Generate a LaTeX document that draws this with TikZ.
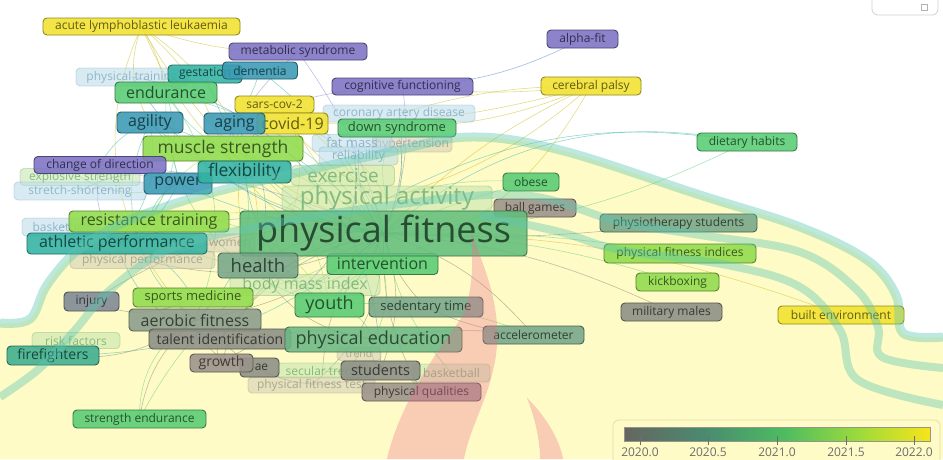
\documentclass[tikz,border=0pt]{standalone}
\usepackage{fontspec}
\setmainfont{Open Sans}
\pgfdeclarelayer{bgl}\pgfdeclarelayer{edg}\pgfdeclarelayer{fgl}\pgfdeclarelayer{top}
\pgfsetlayers{bgl,edg,main,fgl,top}
\definecolor{cY}{HTML}{F2E22E}
\definecolor{cP}{HTML}{7D72C4}
\definecolor{cL}{HTML}{90DC4C}
\definecolor{cG}{HTML}{58CC74}
\definecolor{cT}{HTML}{32B2A2}
\definecolor{cB}{HTML}{3A9AB4}
\definecolor{cGr}{HTML}{8C8E86}
\definecolor{cGG}{HTML}{76A688}
\definecolor{cGB}{HTML}{9A928A}
\definecolor{cF}{HTML}{62BE7C}
\definecolor{cPE}{HTML}{6CB884}
\definecolor{cInj}{HTML}{7D8894}
\definecolor{cAer}{HTML}{8A9C8A}
\definecolor{cFire}{HTML}{3CAE90}
\definecolor{fBl}{HTML}{B8DCEA}\definecolor{fBlt}{HTML}{7FA8BC}
\definecolor{fGn}{HTML}{C2E4AE}\definecolor{fGnt}{HTML}{6FAE70}
\definecolor{fGy}{HTML}{D0CCB4}\definecolor{fGyt}{HTML}{9A9A86}
\definecolor{bgY}{HTML}{FFFBC6}
\definecolor{panel}{HTML}{E2DEB0}
\definecolor{bandc}{HTML}{5CC6B2}
\definecolor{flamec}{HTML}{EE6A90}
\definecolor{cb0}{HTML}{66665F}
\definecolor{cb1}{HTML}{4A8A70}
\definecolor{cb2}{HTML}{4CBC60}
\definecolor{cb3}{HTML}{9ADA3C}
\definecolor{cb4}{HTML}{F8E41A}
\definecolor{tick}{HTML}{6D6D6D}
\pgfdeclarehorizontalshading{vos}{100bp}{color(0bp)=(cb0); color(25bp)=(cb0); color(38bp)=(cb1); color(51bp)=(cb2); color(63bp)=(cb3); color(75bp)=(cb4); color(100bp)=(cb4)}
\tikzset{
  kwbox/.style={rounded corners=4pt, line width=0.9pt, inner sep=0pt, fill opacity=0.88, text opacity=1},
  eY/.style={draw=cY!85!black, opacity=0.55, line width=0.6pt},
  eG/.style={draw=cG, opacity=0.5, line width=0.6pt},
  eT/.style={draw=cT, opacity=0.5, line width=0.6pt},
  eB/.style={draw=cB!70!blue, opacity=0.45, line width=0.6pt},
  eP/.style={draw=cP, opacity=0.45, line width=0.6pt},
  eK/.style={draw=cGr!80!black, opacity=0.45, line width=0.6pt},
  eL/.style={draw=cL, opacity=0.55, line width=0.6pt},
  bandst/.style={draw=bandc, line width=9pt, opacity=0.4, line join=round, line cap=butt},
  flm/.style={fill=flamec, opacity=0.32},
  ticklab/.style={text=tick, font=\fontsize{12}{12}\selectfont, inner sep=0pt},
}
\newcommand\kw[8]{\node[kwbox,fill=#6,draw=#6!60!black,text=#6!40!black,minimum width=#4pt,minimum height=#5pt,font=\fontsize{#7}{#7}\selectfont] (#1) at (#2,#3) {#8};}
\newcommand\fk[8]{\node[kwbox,fill=#6,fill opacity=0.55,draw=#6t,draw opacity=0.35,text=#6t,text opacity=0.8,minimum width=#4pt,minimum height=#5pt,font=\fontsize{#7}{#7}\selectfont] (#1) at (#2,#3) {#8};}
\newcommand\ed[4]{\draw[#1] (#2.center) to[bend left=#4] (#3.center);}
\begin{document}
\begin{tikzpicture}[x=1pt,y=-1pt]
\useasboundingbox (0,0) rectangle (943,459);
\begin{pgfonlayer}{bgl}
\fill[white] (0,0) rectangle (943,459);
\fill[bgY] plot[smooth,tension=0.6] coordinates {(0,323) (30,319) (47,285) (78,250) (125,222) (200,196) (300,172) (390,152) (470,137) (560,150) (700,195) (800,227) (867,260) (896,295) (903,333) (943,337)} -- (943,459) -- (0,459) -- cycle;
\end{pgfonlayer}
% faded keywords
\fk{ptr}{132}{77}{112}{18}{fBl}{12}{physical training}
\fk{cad}{399}{113.5}{152}{17}{fBl}{12}{coronary artery disease}
\fk{hyp}{412}{144}{80}{16}{fGy}{12}{hypertension}
\fk{fat}{352}{143}{80}{17}{fBl}{13}{fat mass}
\fk{rel}{358.5}{156}{79}{18}{fBl}{12.5}{reliability}
\fk{exs}{80}{177}{120}{17}{fGn}{12}{explosive strength}
\fk{ssc}{80}{191}{132}{18}{fBl}{12}{stretch-shortening}
\fk{exe}{343}{175.5}{103}{20}{fGn}{19}{exercise}
\fk{pa}{387}{198.5}{210}{25}{fGn}{24}{physical activity}
\fk{bsk1}{61}{227}{78}{18}{fBl}{12}{basketball}
\fk{wom}{230}{243}{50}{18}{fGy}{12}{women}
\fk{pperf}{142.5}{260}{145}{17}{fGy}{12}{physical performance}
\fk{bmi}{305}{285}{150}{21}{fGn}{16}{body mass index}
\fk{rf}{76}{340.5}{88}{16}{fGn}{12}{risk factors}
\fk{trend}{359}{354}{44}{13}{fGy}{10.5}{trend}
\fk{sec}{322.5}{370.5}{91}{15}{fGn}{12}{secular trend}
\fk{bsk2}{451.5}{373}{77}{18}{fGn}{12}{basketball}
\fk{pft}{311.5}{385}{127}{16}{fGy}{12}{physical fitness test}
% keywords
\kw{acute}{141.5}{26.5}{197}{17}{cY}{12}{acute lymphoblastic leukaemia}
\kw{meta}{298}{51.5}{138}{17}{cP}{12}{metabolic syndrome}
\kw{alpha}{582.5}{39}{71}{18}{cP}{12}{alpha-fit}
\kw{gest}{205}{74}{74}{18}{cT}{12}{gestation}
\kw{dem}{260}{70.5}{75}{17}{cB}{12}{dementia}
\kw{cog}{402.5}{86.5}{141}{17}{cP}{12}{cognitive functioning}
\kw{cp}{591}{86}{100}{18}{cY}{12}{cerebral palsy}
\kw{end}{166}{92.5}{102}{21}{cG}{16}{endurance}
\kw{sars}{274.5}{104.5}{79}{17}{cY}{12}{sars-cov-2}
\kw{covid}{292.5}{123.5}{71}{21}{cY}{16}{covid-19}
\kw{down}{397}{128}{118}{18}{cG}{13}{down syndrome}
\kw{agi}{150}{122.5}{66}{21}{cB}{16}{agility}
\kw{aging}{234.5}{123.5}{61}{21}{cB}{16}{aging}
\kw{mus}{223}{148.5}{160}{25}{cL}{17.5}{muscle strength}
\kw{cod}{100}{165}{132}{17}{cP}{12}{change of direction}
\kw{pow}{178}{183.5}{68}{21}{cB}{16}{power}
\kw{flex}{244.5}{172}{93}{22}{cT}{17.5}{flexibility}
\kw{diet}{747}{142}{100}{18}{cG}{12}{dietary habits}
\kw{obese}{531}{182}{56}{18}{cG}{12}{obese}
\kw{ball}{535}{208}{82}{18}{cGB}{12}{ball games}
\kw{physio}{678.5}{223}{157}{18}{cGG}{12}{physiotherapy students}
\kw{pfi}{680}{253.5}{152}{19}{cL}{12}{physical fitness indices}
\kw{kick}{677.5}{282}{83}{18}{cL}{12}{kickboxing}
\kw{mil}{671.5}{312}{101}{18}{cGr}{12}{military males}
\kw{built}{841}{315}{126}{18}{cY}{12}{built environment}
\kw{acc}{533.5}{335}{101}{18}{cGG}{12}{accelerometer}
\kw{res}{149}{221.5}{160}{21}{cL}{16}{resistance training}
\kw{ath}{117}{243.5}{180}{21}{cT}{16}{athletic performance}
\kw{int}{382.5}{264}{111}{21}{cG}{16}{intervention}
\kw{pf}{383.5}{233.5}{287}{45}{cF}{36}{physical fitness}
\kw{health}{258}{265.5}{80}{25}{cGG}{18.5}{health}
\kw{youth}{329.5}{305}{69}{24}{cG}{18}{youth}
\kw{sed}{426}{307}{114}{20}{cGG}{13}{sedentary time}
\kw{inj}{91.5}{301.5}{55}{19}{cInj}{12}{injury}
\kw{spm}{193}{297.5}{120}{19}{cL}{13}{sports medicine}
\kw{aer}{195}{320}{132}{22}{cAer}{16}{aerobic fitness}
\kw{fire}{53}{355.5}{92}{19}{cFire}{14}{firefighters}
\kw{tal}{220}{339}{142}{20}{cGr}{14}{talent identification}
\kw{pe}{373.5}{339.5}{177}{25}{cPE}{18}{physical education}
\kw{ae}{259.5}{367.5}{39}{19}{cGr}{12}{\hspace*{4pt}ae}
\kw{growth}{221.5}{363}{63}{18}{cGB}{14}{growth}
\kw{stu}{380.5}{370.5}{79}{19}{cGr}{14.5}{students}
\kw{pq}{421.5}{392}{119}{18}{cGB}{12}{physical qualities}
\kw{se}{139.5}{419}{133}{18}{cG}{12}{strength endurance}
\begin{pgfonlayer}{edg}
\ed{eB}{cog}{alpha}{-12}
\ed{eY}{cp}{cog}{6}
\ed{eY}{cp}{down}{10}
\ed{eY}{cp}{cad}{-8}
\ed{eY}{cp}{pa}{12}
\ed{eY}{cp}{pf}{-10}
\ed{eY}{cp}{covid}{8}
\ed{eT}{diet}{pf}{-25}
\ed{eT}{diet}{pa}{-18}
\ed{eG}{diet}{pf}{12}
\ed{eK}{pf}{physio}{-5}
\ed{eG}{pf}{pfi}{5}
\ed{eG}{pf}{kick}{8}
\ed{eK}{pf}{mil}{10}
\ed{eY}{pf}{built}{10}
\ed{eK}{pf}{acc}{15}
\ed{eG}{pf}{obese}{5}
\ed{eK}{pf}{ball}{-5}
\ed{eG}{pa}{obese}{10}
\ed{eK}{sed}{acc}{-10}
\ed{eG}{youth}{acc}{12}
\ed{eK}{pe}{acc}{8}
\ed{eY}{acute}{mus}{15}
\ed{eY}{acute}{pf}{-20}
\ed{eY}{acute}{meta}{-10}
\ed{eY}{acute}{end}{10}
\ed{eY}{acute}{flex}{-12}
\ed{eP}{meta}{pf}{10}
\ed{eP}{meta}{mus}{-10}
\ed{eT}{dem}{aging}{8}
\ed{eT}{dem}{pf}{15}
\ed{eP}{cog}{pf}{15}
\ed{eP}{cog}{aging}{-10}
\ed{eG}{end}{pf}{20}
\ed{eG}{end}{mus}{-15}
\ed{eG}{end}{res}{25}
\ed{eG}{end}{aer}{30}
\ed{eT}{agi}{pf}{-15}
\ed{eT}{agi}{pow}{20}
\ed{eT}{agi}{cod}{-20}
\ed{eT}{agi}{ath}{25}
\ed{eT}{agi}{flex}{15}
\ed{eT}{aging}{pf}{10}
\ed{eT}{aging}{health}{25}
\ed{eL}{mus}{pf}{12}
\ed{eL}{mus}{res}{-20}
\ed{eL}{mus}{flex}{30}
\ed{eL}{mus}{int}{-20}
\ed{eL}{mus}{youth}{25}
\ed{eT}{pow}{pf}{-10}
\ed{eT}{pow}{ath}{20}
\ed{eT}{pow}{res}{-25}
\ed{eP}{cod}{pow}{15}
\ed{eP}{cod}{ath}{-25}
\ed{eP}{cod}{pf}{10}
\ed{eT}{flex}{pf}{-15}
\ed{eT}{flex}{aer}{30}
\ed{eT}{flex}{youth}{-25}
\ed{eL}{res}{pf}{12}
\ed{eL}{res}{ath}{35}
\ed{eL}{res}{health}{-20}
\ed{eT}{ath}{pf}{15}
\ed{eT}{ath}{tal}{-30}
\ed{eT}{ath}{spm}{25}
\ed{eK}{health}{pf}{20}
\ed{eK}{health}{pe}{-25}
\ed{eG}{int}{pe}{20}
\ed{eG}{int}{youth}{-20}
\ed{eG}{youth}{pe}{30}
\ed{eG}{youth}{pf}{-15}
\ed{eG}{youth}{bmi}{30}
\ed{eK}{sed}{pf}{15}
\ed{eK}{aer}{pf}{-15}
\ed{eK}{aer}{fire}{20}
\ed{eK}{aer}{se}{-20}
\ed{eK}{aer}{tal}{40}
\ed{eK}{tal}{pf}{20}
\ed{eK}{tal}{growth}{-30}
\ed{eK}{growth}{pe}{25}
\ed{eK}{stu}{pe}{30}
\ed{eK}{stu}{pf}{-20}
\ed{eK}{pq}{pf}{15}
\ed{eK}{pq}{stu}{-30}
\ed{eK}{inj}{spm}{-25}
\ed{eK}{inj}{pf}{20}
\ed{eL}{spm}{pf}{-15}
\ed{eT}{fire}{pf}{-20}
\ed{eT}{fire}{rf}{30}
\ed{eG}{se}{pf}{25}
\ed{eG}{se}{aer}{30}
\ed{eY}{covid}{pf}{-10}
\ed{eY}{covid}{pa}{20}
\ed{eY}{covid}{health}{30}
\ed{eY}{sars}{pa}{-15}
\ed{eY}{sars}{int}{25}
\ed{eG}{down}{pf}{20}
\ed{eG}{down}{pa}{-25}
\ed{eY}{acute}{aer}{-35}
\ed{eY}{cp}{int}{20}
\ed{eB}{ptr}{pf}{-25}
\ed{eB}{ptr}{stu}{40}
\ed{eB}{cad}{pf}{15}
\ed{eB}{rel}{pf}{-20}
\ed{eB}{fat}{bmi}{30}
\ed{eG}{exe}{pf}{30}
\ed{eG}{exe}{health}{-30}
\ed{eG}{pa}{youth}{25}
\ed{eG}{bmi}{pf}{-30}
\ed{eB}{ssc}{pow}{25}
\ed{eG}{exs}{pow}{-25}
\ed{eB}{bsk1}{ath}{30}
\ed{eK}{pperf}{pf}{-20}
\ed{eK}{sec}{pf}{20}
\ed{eK}{pft}{pf}{-25}
\ed{eG}{bsk2}{pf}{15}
\ed{eK}{trend}{sec}{40}
\ed{eK}{ae}{aer}{40}
\ed{eY}{acute}{agi}{-25}
\ed{eY}{acute}{health}{30}
\ed{eY}{sars}{health}{-35}
\ed{eT}{gest}{pf}{-30}
\ed{eL}{res}{youth}{35}
\ed{eG}{end}{youth}{-40}
\ed{eT}{agi}{aer}{-40}
\ed{eK}{growth}{pf}{35}
\ed{eG}{int}{health}{40}
\ed{eK}{tal}{stu}{-35}
\end{pgfonlayer}
\begin{pgfonlayer}{fgl}
\draw[bandst] plot[smooth,tension=0.6] coordinates {(0,323) (30,319) (47,285) (78,250) (125,222) (200,196) (300,172) (390,152) (470,137) (560,150) (700,195) (800,227) (867,260) (896,295) (903,333) (943,337)};
\draw[bandst,line width=8pt] plot[smooth,tension=0.6] coordinates {(0,397) (40,368) (75,330) (110,290) (167,250) (240,230) (377,207) (520,195) (620,222) (700,235) (800,252) (857,290) (878,327) (882,357) (943,368)};
\draw[bandst,line width=8pt] plot[smooth,tension=0.6] coordinates {(480,215) (560,232) (620,250) (727,265) (800,287) (840,330) (858,380) (943,405)};
\fill[flm] (387,459) .. controls (398,410) and (430,360) .. (460,320) .. controls (472,300) and (474,265) .. (471,232) .. controls (482,262) and (500,300) .. (497,345) .. controls (494,390) and (470,425) .. (464,459) -- cycle;
\fill[flm] (527,398) .. controls (545,415) and (560,440) .. (563,459) -- (540,459) .. controls (540,440) and (535,418) .. (527,398) -- cycle;
\end{pgfonlayer}
\begin{pgfonlayer}{top}
\draw[rounded corners=6pt, draw=black!18, line width=0.8pt] (872,-10) rectangle (938,15);
\draw[black!30, line width=0.6pt] (921,4) rectangle (927,10);
\draw[rounded corners=6pt, draw=panel, line width=0.8pt, fill=bgY] (613,420) rectangle (940,470);
\shade[shading=vos] (624,427) rectangle (930,441);
\draw[draw=cb0!70, line width=0.5pt] (624,427) rectangle (930,441);
\foreach \tx/\tl [count=\i] in {640/2020.0, 708/2020.5, 777/2021.0, 846/2021.5, 914/2022.0} {
  \draw[tick, line width=0.6pt] (\tx,436) -- (\tx,445);
  \node[ticklab] (lab\i) at (\tx,452.5) {\tl};
}
\end{pgfonlayer}
\end{tikzpicture}
\end{document}
